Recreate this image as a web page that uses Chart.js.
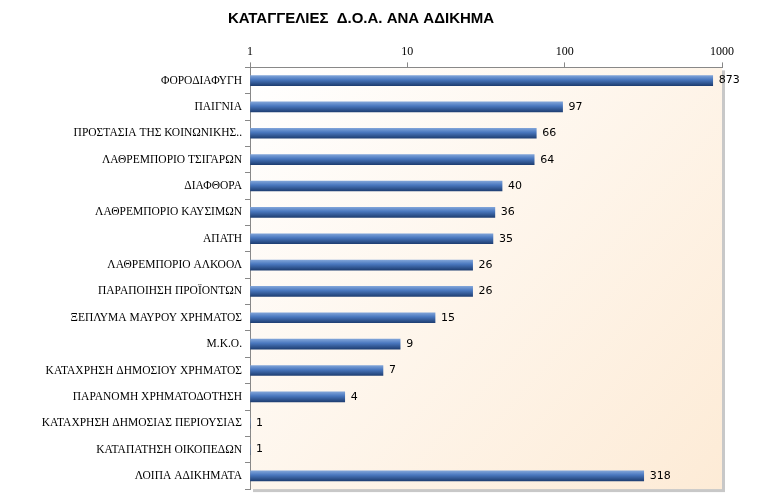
<!DOCTYPE html>
<html lang="el">
<head>
<meta charset="UTF-8">
<script src="https://cdn.jsdelivr.net/npm/chart.js"></script>
<style>
  body { margin: 0; background: #fff; }
</style>
</head>
<body>
<canvas id="c" width="760" height="499"></canvas>
<script>
// Δεδομένα
var categories = ['ΦΟΡΟΔΙΑΦΥΓΗ', 'ΠΑΙΓΝΙΑ', 'ΠΡΟΣΤΑΣΙΑ ΤΗΣ ΚΟΙΝΩΝΙΚΗΣ..', 'ΛΑΘΡΕΜΠΟΡΙΟ ΤΣΙΓΑΡΩΝ',
  'ΔΙΑΦΘΟΡΑ', 'ΛΑΘΡΕΜΠΟΡΙΟ ΚΑΥΣΙΜΩΝ', 'ΑΠΑΤΗ', 'ΛΑΘΡΕΜΠΟΡΙΟ ΑΛΚΟΟΛ', 'ΠΑΡΑΠΟΙΗΣΗ ΠΡΟΪΟΝΤΩΝ',
  'ΞΕΠΛΥΜΑ ΜΑΥΡΟΥ ΧΡΗΜΑΤΟΣ', 'Μ.Κ.Ο.', 'ΚΑΤΑΧΡΗΣΗ ΔΗΜΟΣΙΟΥ ΧΡΗΜΑΤΟΣ', 'ΠΑΡΑΝΟΜΗ ΧΡΗΜΑΤΟΔΟΤΗΣΗ',
  'ΚΑΤΑΧΡΗΣΗ ΔΗΜΟΣΙΑΣ ΠΕΡΙΟΥΣΙΑΣ', 'ΚΑΤΑΠΑΤΗΣΗ ΟΙΚΟΠΕΔΩΝ', 'ΛΟΙΠΑ ΑΔΙΚΗΜΑΤΑ'];
var complaints = [873, 97, 66, 64, 40, 36, 35, 26, 26, 15, 9, 7, 4, 1, 1, 318];
var tickValues = [1, 10, 100, 1000];

// φόντο περιοχής σχεδίασης + ετικέτες τιμών
var extras = {
  id: 'extras',
  beforeDraw: function(chart) {
    var a = chart.chartArea, ctx = chart.ctx;
    var g = ctx.createLinearGradient(a.left, a.top, a.right, a.bottom);
    g.addColorStop(0, '#ffffff');
    g.addColorStop(1, '#fdebd6');
    ctx.save();
    ctx.fillStyle = '#c8c8c8';
    ctx.fillRect(a.left + 3, a.top + 3, a.right - a.left, a.bottom - a.top);
    ctx.fillStyle = g;
    ctx.fillRect(a.left, a.top, a.right - a.left, a.bottom - a.top);
    ctx.restore();
  },
  afterDatasetsDraw: function(chart) {
    var ctx = chart.ctx;
    ctx.save();
    ctx.font = '11px "DejaVu Sans"';
    ctx.fillStyle = '#000';
    ctx.textBaseline = 'middle';
    chart.getDatasetMeta(0).data.forEach(function(bar, i) {
      ctx.fillText(complaints[i], bar.x + 6, bar.y);
    });
    ctx.restore();
  }
};

var ctx = document.getElementById('c').getContext('2d');

new Chart(ctx, {
  type: 'bar',
  data: {
    labels: categories,
    datasets: [{
      data: complaints,
      base: 1,
      backgroundColor: function(c) {
        var ys = c.chart.scales && c.chart.scales.y;
        var y = ys ? ys.getPixelForValue(c.dataIndex) : NaN;
        if (!isFinite(y)) return '#4a78bf';
        var g = c.chart.ctx.createLinearGradient(0, y - 5, 0, y + 5);
        g.addColorStop(0, '#7fa3d8');
        g.addColorStop(0.4, '#4a78bf');
        g.addColorStop(1, '#1f3f73');
        return g;
      },
      barThickness: 10
    }]
  },
  options: {
    indexAxis: 'y',
    responsive: false,
    animation: false,
    layout: { padding: { top: 0, right: 38, bottom: 8, left: 0 } },
    plugins: {
      legend: { display: false },
      tooltip: { enabled: false },
      title: {
        display: true,
        text: 'ΚΑΤΑΓΓΕΛΙΕΣ  Δ.Ο.Α. ΑΝΑ ΑΔΙΚΗΜΑ',
        font: { family: 'Liberation Sans', size: 15, weight: 'bold' },
        color: '#000',
        padding: { top: 10, bottom: 14 }
      }
    },
    scales: {
      x: {
        type: 'logarithmic',
        position: 'top',
        min: 1, max: 1000,
        afterBuildTicks: function(s) { s.ticks = tickValues.map(function(v) { return { value: v }; }); },
        ticks: {
          font: { family: 'Liberation Serif', size: 12 }, color: '#000',
          callback: function(v) { return tickValues.indexOf(v) >= 0 ? String(v) : ''; }
        },
        grid: { drawOnChartArea: false, tickLength: 5, color: '#888' },
        border: { color: '#888' }
      },
      y: {
        afterFit: function(s) { s.width = 250; },
        ticks: { font: { family: 'Liberation Serif', size: 11.5 }, color: '#000', autoSkip: false },
        grid: { drawOnChartArea: false, tickLength: 5, color: '#888', offset: true },
        border: { color: '#888' }
      }
    }
  },
  plugins: [extras]
});
</script>
</body>
</html>
